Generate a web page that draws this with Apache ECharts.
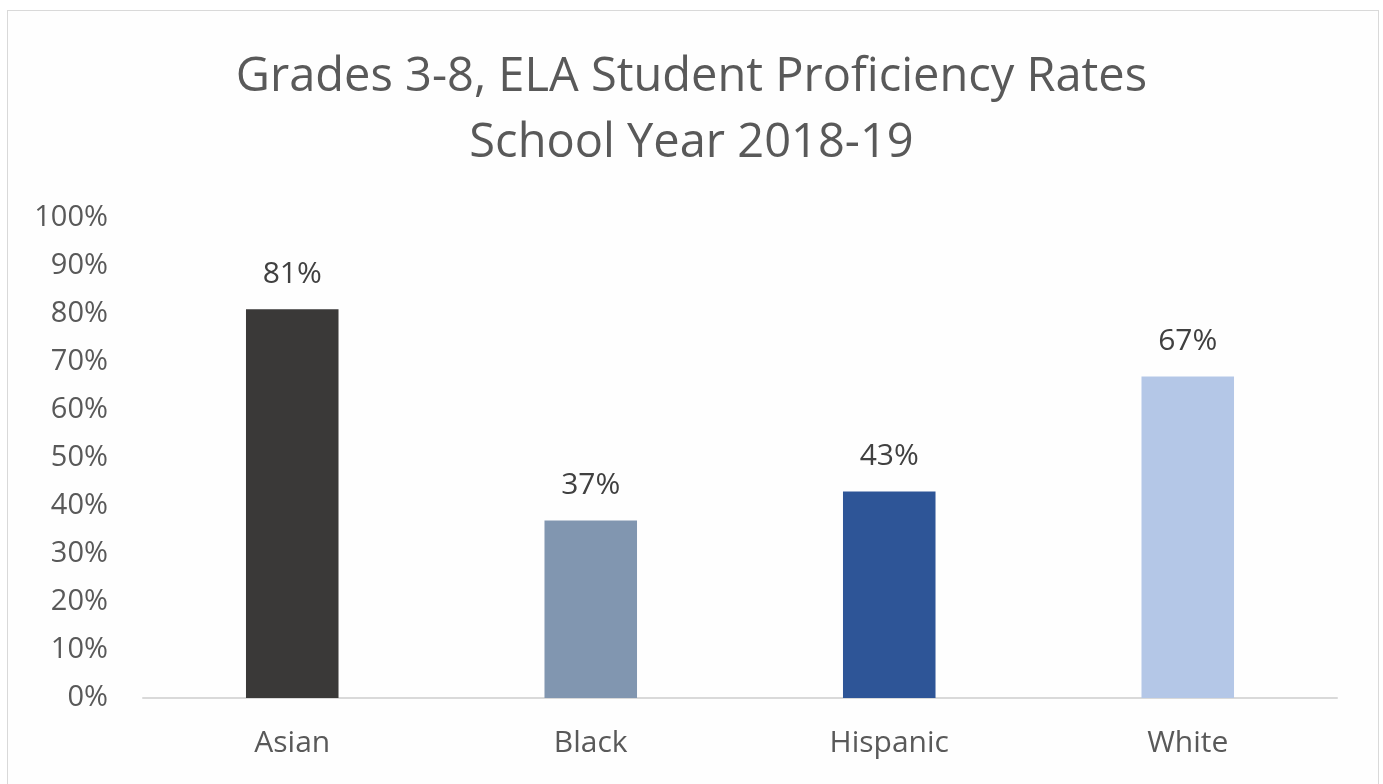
<!DOCTYPE html>
<html>
<head>
<meta charset="utf-8">
<script src="https://cdn.jsdelivr.net/npm/echarts@6/dist/echarts.min.js"></script>
<style>
html,body{margin:0;padding:0;background:#fff;}
#frame{position:absolute;left:7px;top:10px;width:1372px;height:790px;border:1px solid #d9d9d9;box-sizing:border-box;background:#fefefe;}
#chart{position:absolute;left:0;top:0;width:1383px;height:784px;}
</style>
</head>
<body>
<div id="frame"></div>
<div id="chart"></div>
<script>
const titleLines = ["Grades 3-8, ELA Student Proficiency Rates", "School Year 2018-19"];
const categories = ["Asian", "Black", "Hispanic", "White"];
const values = [81, 37, 43, 67];
const barColors = ["#3a3938", "#8196b0", "#2e5597", "#b4c7e7"];
const yTicks = [0, 10, 20, 30, 40, 50, 60, 70, 80, 90, 100];

const chart = echarts.init(document.getElementById('chart'), null, {renderer: 'canvas'});
chart.setOption({
  backgroundColor: 'transparent',
  animation: false,
  title: {
    text: titleLines.join('\n'),
    left: 'center',
    top: 40,
    textStyle: {
      fontFamily: 'Open Sans',
      fontSize: 47,
      fontWeight: 'normal',
      color: '#595959',
      lineHeight: 66
    }
  },
  grid: {left: 143, right: 46, top: 218, bottom: 86, containLabel: false},
  xAxis: {
    type: 'category',
    data: categories,
    axisLine: {lineStyle: {color: '#d9d9d9', width: 2}},
    axisTick: {show: false},
    axisLabel: {fontFamily: 'Open Sans', fontSize: 30, color: '#595959', margin: 30}
  },
  yAxis: {
    type: 'value',
    min: yTicks[0],
    max: yTicks[yTicks.length - 1],
    interval: 10,
    axisLine: {show: false},
    axisTick: {show: false},
    splitLine: {show: false},
    axisLabel: {fontFamily: 'Open Sans', fontSize: 29, color: '#595959', margin: 35, formatter: v => v + '%'}
  },
  series: [{
    type: 'bar',
    data: values.map((v, i) => ({value: v, itemStyle: {color: barColors[i]}})),
    barWidth: '31%',
    label: {
      show: true,
      position: 'top',
      distance: 20,
      fontFamily: 'Open Sans',
      fontSize: 30,
      color: '#404040',
      formatter: p => p.value + '%'
    }
  }]
});
</script>
</body>
</html>
